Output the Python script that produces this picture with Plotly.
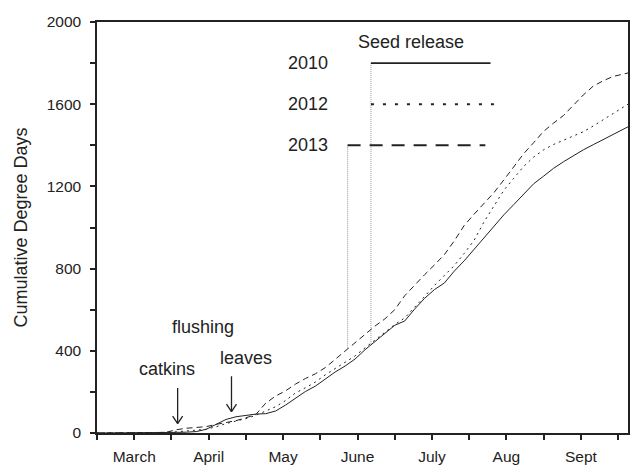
import numpy as np
import plotly.graph_objects as go

# Days since 1 March
days = [0, 4, 8, 12, 16, 20, 24, 28, 32, 36, 40, 44, 48, 52, 56, 60, 64, 68, 72, 76,
        80, 84, 88, 92, 96, 100, 104, 108, 112, 116, 120, 124, 128, 132, 136, 140,
        144, 148, 152, 156, 160, 164, 168, 172, 176, 180, 184, 188, 192, 196, 200,
        204, 208, 212, 214]

dd_2010 = [0, 0, 0, 1, 1, 1, 2, 2, 3, 4, 7, 18, 42, 66, 79, 87, 92, 94, 107, 136,
           170, 202, 228, 262, 297, 326, 360, 405, 445, 482, 524, 545, 603, 655, 698, 730,
           788, 838, 893, 953, 1008, 1062, 1112, 1165, 1213, 1250, 1288, 1320, 1350, 1378, 1403,
           1428, 1450, 1475, 1490]

dd_2012 = [0, 0, 0, 1, 1, 2, 2, 3, 6, 10, 14, 18, 30, 46, 58, 70, 86, 106, 128, 158,
           195, 220, 248, 283, 313, 345, 375, 414, 452, 494, 528, 560, 610, 664, 718, 768,
           815, 874, 938, 1028, 1108, 1182, 1240, 1298, 1343, 1378, 1404, 1424, 1444, 1466, 1494,
           1524, 1554, 1584, 1600]

dd_2013 = [0, 0, 0, 1, 1, 1, 2, 4, 16, 23, 27, 31, 42, 52, 60, 74, 90, 145, 180, 205,
           238, 265, 288, 318, 358, 400, 440, 480, 520, 555, 600, 668, 720, 770, 818, 868,
           935, 1010, 1065, 1115, 1170, 1232, 1297, 1360, 1413, 1468, 1508, 1545, 1595, 1645, 1688,
           1714, 1735, 1748, 1752]

# Seed release periods (days since 1 March) and the level of each key line
seed_years = ["2010", "2012", "2013"]
seed_start = [110.4, 110.4, 101.0]
seed_end = [158.6, 163.5, 156.5]
key_level = [1800, 1600, 1400]

# Phenology events: label, arrow position (day) and arrow tip (degree days)
event_label = ["catkins", "leaves"]
event_day = [32.5, 54.2]
event_tip = [46, 104]

month_ticks = [0, 15, 30, 45, 60, 75, 90, 105, 120, 135, 150, 165, 180, 195, 210]
month_text = ["", "March", "", "April", "", "May", "", "June", "", "July", "", "Aug", "", "Sept", ""]
y_ticks = [0, 200, 400, 600, 800, 1000, 1200, 1400, 1600, 1800, 2000]
y_text = ["0", "", "400", "", "800", "", "1200", "", "1600", "", "2000"]

INK = "#222222"
FONT = "Liberation Sans, Arial, sans-serif"

series = {"2010": dd_2010, "2012": dd_2012, "2013": dd_2013}
curve_dash = {"2010": "solid", "2012": "2px,4px", "2013": "6px,4px"}
key_dash = {"2010": "solid", "2012": "3px,9px", "2013": "13px,9px"}
key_width = {"2010": 1.6, "2012": 2.0, "2013": 2.0}

fig = go.Figure()

# Vertical guides from each key line down to the curve at the release date
drawn = set()
for yr, x0, lvl in zip(seed_years, seed_start, key_level):
    if x0 in drawn:
        continue
    drawn.add(x0)
    y_curve = float(np.interp(x0, days, series[yr]))
    fig.add_trace(go.Scatter(x=[x0, x0], y=[lvl, y_curve], mode="lines",
                             line=dict(color="#9a9a9a", width=1, dash="1px,1px"),
                             showlegend=False, hoverinfo="skip"))

for yr in seed_years:
    fig.add_trace(go.Scatter(x=days, y=series[yr], mode="lines", name=yr,
                             line=dict(color=INK, width=1, dash=curve_dash[yr]),
                             showlegend=False))

for yr, x0, x1, lvl in zip(seed_years, seed_start, seed_end, key_level):
    fig.add_trace(go.Scatter(x=[x0, x1], y=[lvl, lvl], mode="lines",
                             line=dict(color=INK, width=key_width[yr], dash=key_dash[yr]),
                             showlegend=False, hoverinfo="skip"))
    fig.add_annotation(x=85, y=lvl, text=yr, showarrow=False,
                       font=dict(size=18, color=INK, family=FONT))

fig.add_annotation(x=126.5, y=1904, text="Seed release", showarrow=False,
                   font=dict(size=18, color=INK, family=FONT))

# Phenology labels and open-headed arrows
fig.add_annotation(x=42.6, y=516, text="flushing", showarrow=False,
                   font=dict(size=18, color=INK, family=FONT))
fig.add_annotation(x=60.2, y=366, text="leaves", showarrow=False,
                   font=dict(size=18, color=INK, family=FONT))
fig.add_annotation(x=28.1, y=313, text="catkins", showarrow=False,
                   font=dict(size=18, color=INK, family=FONT))
for xa, ytip in zip(event_day, event_tip):
    # shaft, then the two arms of the head
    for dx, dy in [(0, -37), (-6, -9), (6, -9)]:
        fig.add_annotation(x=xa, y=ytip, ax=dx, ay=dy, text="", showarrow=True,
                           arrowhead=0, arrowwidth=1.3, arrowcolor=INK, standoff=0)

fig.update_xaxes(range=[0, 214], tickmode="array", tickvals=month_ticks, ticktext=month_text,
                 ticks="outside", ticklen=5, tickwidth=1.5, tickcolor=INK,
                 showline=True, linewidth=1.5, linecolor=INK, mirror=True,
                 showgrid=False, zeroline=False, ticklabelstandoff=4,
                 tickfont=dict(size=15.5, color=INK, family=FONT))
fig.update_yaxes(range=[0, 2000], tickmode="array", tickvals=y_ticks, ticktext=y_text,
                 ticks="outside", ticklen=5, tickwidth=1.5, tickcolor=INK,
                 showline=True, linewidth=1.5, linecolor=INK, mirror=True,
                 showgrid=False, zeroline=False, ticklabelstandoff=6,
                 tickfont=dict(size=15.5, color=INK, family=FONT),
                 title=dict(text="Cumulative Degree Days", standoff=14,
                            font=dict(size=18, color=INK, family=FONT)))

fig.update_layout(width=632, height=467, margin=dict(l=97, r=2, t=22, b=30),
                  plot_bgcolor="white", paper_bgcolor="white", showlegend=False)

fig.write_html("out.html")
